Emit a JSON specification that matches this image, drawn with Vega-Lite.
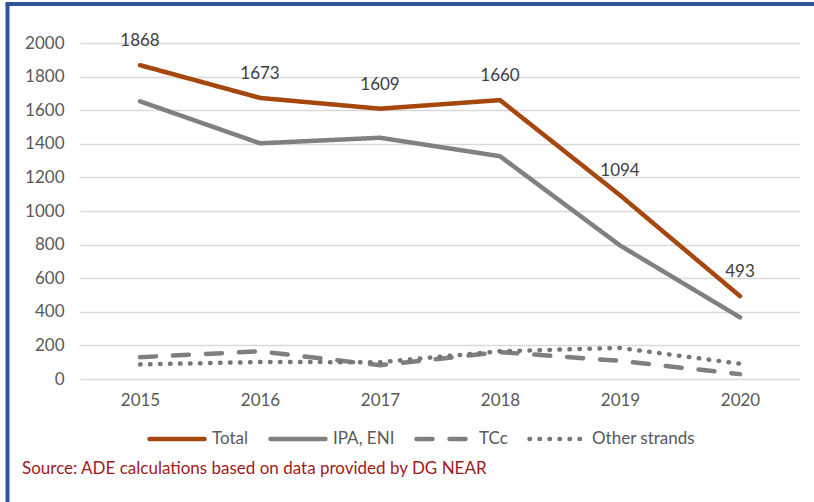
{
  "$schema": "https://vega.github.io/schema/vega-lite/v6.json",
  "autosize": "none",
  "width": 720,
  "height": 336,
  "padding": {"left": 80, "top": 43, "right": 14, "bottom": 123},
  "background": "white",
  "config": {
    "view": {"stroke": null},
    "font": "Lato",
    "axis": {"labelFont": "Lato", "labelFontSize": 17, "labelColor": "#595959", "domain": false, "ticks": false, "title": null, "labelOverlap": false}
  },
  "title": {
    "text": "Source: ADE calculations based on data provided by DG NEAR",
    "orient": "bottom",
    "anchor": "start",
    "frame": "group",
    "dx": -58,
    "offset": -43,
    "font": "Lato",
    "fontSize": 17,
    "fontWeight": "normal",
    "color": "#9E1B1B"
  },
  "data": {
    "values": [
      {"year": 2015, "series": "Total", "value": 1868},
      {"year": 2016, "series": "Total", "value": 1673},
      {"year": 2017, "series": "Total", "value": 1609},
      {"year": 2018, "series": "Total", "value": 1660},
      {"year": 2019, "series": "Total", "value": 1094},
      {"year": 2020, "series": "Total", "value": 493},
      {"year": 2015, "series": "IPA, ENI", "value": 1653},
      {"year": 2016, "series": "IPA, ENI", "value": 1403},
      {"year": 2017, "series": "IPA, ENI", "value": 1436},
      {"year": 2018, "series": "IPA, ENI", "value": 1326},
      {"year": 2019, "series": "IPA, ENI", "value": 795},
      {"year": 2020, "series": "IPA, ENI", "value": 367},
      {"year": 2015, "series": "TCc", "value": 130},
      {"year": 2016, "series": "TCc", "value": 165},
      {"year": 2017, "series": "TCc", "value": 82},
      {"year": 2018, "series": "TCc", "value": 160},
      {"year": 2019, "series": "TCc", "value": 108},
      {"year": 2020, "series": "TCc", "value": 29},
      {"year": 2015, "series": "Other strands", "value": 87},
      {"year": 2016, "series": "Other strands", "value": 101},
      {"year": 2017, "series": "Other strands", "value": 100},
      {"year": 2018, "series": "Other strands", "value": 165},
      {"year": 2019, "series": "Other strands", "value": 185},
      {"year": 2020, "series": "Other strands", "value": 91}
    ]
  },
  "layer": [
    {
      "mark": {"type": "line", "strokeWidth": 4.5, "strokeCap": "round", "strokeJoin": "round"},
      "encoding": {
        "x": {
          "field": "year", "type": "quantitative",
          "scale": {"domain": [2014.5, 2020.5], "nice": false, "zero": false},
          "axis": {"values": [2015, 2016, 2017, 2018, 2019, 2020], "format": "d", "grid": false, "labelPadding": 13, "labelFlush": false, "labelOverlap": false}
        },
        "y": {
          "field": "value", "type": "quantitative",
          "scale": {"domain": [0, 2000], "nice": false},
          "axis": {"values": [0, 200, 400, 600, 800, 1000, 1200, 1400, 1600, 1800, 2000], "tickCount": 11, "format": "d", "grid": true, "gridColor": "#D9D9D9", "gridWidth": 1.3, "labelPadding": 16, "labelOverlap": false, "labelBound": false}
        },
        "color": {
          "field": "series", "type": "nominal",
          "scale": {"domain": ["Total", "IPA, ENI", "TCc", "Other strands"], "range": ["#A5470F", "#808080", "#7F7F7F", "#767676"]},
          "legend": {
            "orient": "none", "legendX": 67, "legendY": 366, "direction": "horizontal", "title": null,
            "symbolType": "stroke", "symbolSize": 3025, "symbolStrokeWidth": 4.5,
            "labelFont": "Lato", "labelFontSize": 17, "labelColor": "#595959", "labelOffset": 5, "columnPadding": 12,
            "encode": {"symbols": {"update": {"strokeCap": {"value": "round"}}}}
          }
        },
        "strokeDash": {
          "field": "series", "type": "nominal",
          "scale": {"domain": ["Total", "IPA, ENI", "TCc", "Other strands"], "range": [[1, 0], [1, 0], [16, 17], [0.5, 9.5]]},
          "legend": {
            "orient": "none", "legendX": 67, "legendY": 366, "direction": "horizontal", "title": null,
            "symbolType": "stroke", "symbolSize": 3025, "symbolStrokeWidth": 4.5,
            "labelFont": "Lato", "labelFontSize": 17, "labelColor": "#595959", "labelOffset": 5, "columnPadding": 12,
            "encode": {"symbols": {"update": {"strokeCap": {"value": "round"}}}}
          }
        }
      }
    },
    {
      "transform": [{"filter": "datum.series === 'Total'"}],
      "mark": {"type": "text", "dy": -24, "font": "Lato", "fontSize": 17, "color": "#404040", "baseline": "middle"},
      "encoding": {
        "x": {"field": "year", "type": "quantitative"},
        "y": {"field": "value", "type": "quantitative"},
        "text": {"field": "value", "type": "quantitative", "format": "d"}
      }
    },
    {
      "data": {"values": [{"part": "frame"}]},
      "mark": {"type": "rule", "color": "#2F5597", "strokeWidth": 4},
      "encoding": {
        "x": {"datum": 2013.896, "type": "quantitative"},
        "y": {"datum": 2238, "type": "quantitative"},
        "y2": {"datum": -732}
      }
    },
    {
      "data": {"values": [{"part": "frame"}]},
      "mark": {"type": "rule", "color": "#2F5597", "strokeWidth": 4},
      "encoding": {
        "x": {"datum": 2013.88, "type": "quantitative"},
        "x2": {"datum": 2021},
        "y": {"datum": 2232, "type": "quantitative"}
      }
    }
  ]
}
